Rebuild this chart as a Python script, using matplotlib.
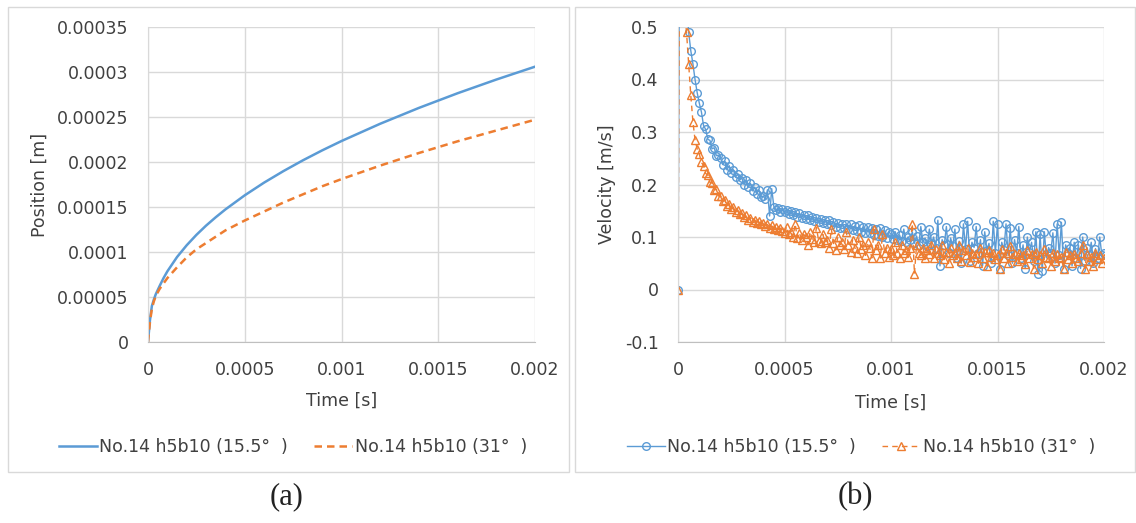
import matplotlib.pyplot as plt
import numpy as np
from matplotlib.patches import Rectangle

# ---- (a) position data ----
pos_time = [0, 1e-5, 2e-5, 3e-5, 4e-5, 6e-5, 8e-5, 1e-4, 1.5e-4, 2e-4, 2.5e-4, 3e-4,
            3.5e-4, 4e-4, 5e-4, 6e-4, 7e-4, 8e-4, 9e-4, 1e-3, 1.2e-3, 1.4e-3,
            1.6e-3, 1.8e-3, 2e-3]
pos_155 = [0, 0.0000240, 0.0000400, 0.0000470, 0.0000530, 0.0000622, 0.0000709,
           0.0000785, 0.0000944, 0.0001075, 0.0001190, 0.0001293, 0.0001386,
           0.0001473, 0.0001630, 0.0001771, 0.0001899, 0.0002018, 0.0002129,
           0.0002233, 0.0002425, 0.0002601, 0.0002764, 0.0002916, 0.0003059]
pos_31 = [0, 0.0000220, 0.0000370, 0.0000450, 0.0000510, 0.0000590, 0.0000650,
          0.0000710, 0.0000830, 0.0000940, 0.0001030, 0.0001100, 0.0001170,
          0.0001240, 0.0001350, 0.0001450, 0.0001550, 0.0001640, 0.0001730,
          0.0001810, 0.0001960, 0.0002100, 0.0002230, 0.0002350, 0.0002470]

# ---- (b) velocity data, one value every 10 us ----
vel_dt = 1e-5
vel_155 = [
    0, 0.95, 0.75, 0.62, 0.55, 0.49, 0.455, 0.43, 0.40, 0.375,
    0.355, 0.338, 0.312, 0.305, 0.286, 0.284, 0.268, 0.27, 0.255, 0.256,
    0.25, 0.238, 0.244, 0.228, 0.236, 0.222, 0.228, 0.214, 0.22, 0.209,
    0.212, 0.2, 0.208, 0.195, 0.202, 0.188, 0.195, 0.182, 0.19, 0.176,
    0.178, 0.172, 0.19, 0.14, 0.192, 0.158, 0.152, 0.155, 0.148, 0.153,
    0.148, 0.152, 0.143, 0.149, 0.141, 0.147, 0.139, 0.145, 0.137, 0.142,
    0.135, 0.141, 0.132, 0.138, 0.13, 0.136, 0.128, 0.134, 0.127, 0.133,
    0.125, 0.132, 0.122, 0.129, 0.12, 0.127, 0.118, 0.125, 0.117, 0.124,
    0.116, 0.124, 0.113, 0.121, 0.111, 0.122, 0.109, 0.119, 0.108, 0.12,
    0.107, 0.118, 0.104, 0.115, 0.102, 0.117, 0.1, 0.113, 0.099, 0.11,
    0.105, 0.097, 0.11, 0.095, 0.104, 0.092, 0.115, 0.09, 0.1, 0.094,
    0.11, 0.088, 0.102, 0.085, 0.12, 0.09, 0.098, 0.083, 0.115, 0.087,
    0.1, 0.08, 0.132, 0.045, 0.095, 0.085, 0.12, 0.07, 0.098, 0.082,
    0.115, 0.06, 0.092, 0.05, 0.125, 0.078, 0.13, 0.055, 0.09, 0.08,
    0.12, 0.07, 0.095, 0.045, 0.11, 0.075, 0.088, 0.05, 0.13, 0.07,
    0.125, 0.04, 0.09, 0.075, 0.125, 0.065, 0.118, 0.05, 0.095, 0.07,
    0.12, 0.06, 0.085, 0.04, 0.1, 0.072, 0.09, 0.055, 0.11, 0.03,
    0.105, 0.035, 0.11, 0.06, 0.08, 0.07, 0.108, 0.05, 0.125, 0.065,
    0.128, 0.04, 0.085, 0.07, 0.08, 0.045, 0.09, 0.06, 0.085, 0.04,
    0.1, 0.055, 0.08, 0.065, 0.09, 0.05, 0.078, 0.06, 0.1, 0.065,
    0.07,
]
vel_31 = [
    0, 0.9, 0.62, 0.53, 0.49, 0.43, 0.37, 0.32, 0.285, 0.268,
    0.258, 0.242, 0.236, 0.221, 0.218, 0.204, 0.203, 0.19, 0.191, 0.178,
    0.179, 0.168, 0.17, 0.159, 0.163, 0.153, 0.157, 0.147, 0.152, 0.143,
    0.146, 0.138, 0.141, 0.133, 0.137, 0.129, 0.133, 0.126, 0.13, 0.124,
    0.127, 0.121, 0.124, 0.118, 0.122, 0.116, 0.12, 0.114, 0.117, 0.112,
    0.108, 0.12, 0.105, 0.11, 0.1, 0.125, 0.098, 0.108, 0.095, 0.105,
    0.1, 0.085, 0.11, 0.096, 0.09, 0.118, 0.093, 0.088, 0.105, 0.09,
    0.095, 0.08, 0.115, 0.088, 0.075, 0.1, 0.085, 0.09, 0.078, 0.11,
    0.085, 0.072, 0.095, 0.08, 0.07, 0.1, 0.078, 0.085, 0.065, 0.09,
    0.08, 0.06, 0.115, 0.075, 0.085, 0.06, 0.105, 0.07, 0.08, 0.062,
    0.078, 0.065, 0.09, 0.07, 0.06, 0.085, 0.07, 0.075, 0.062, 0.08,
    0.125, 0.03, 0.085, 0.07, 0.065, 0.08, 0.06, 0.075, 0.068, 0.085,
    0.06, 0.078, 0.07, 0.065, 0.085, 0.058, 0.072, 0.05, 0.08, 0.066,
    0.07, 0.06, 0.085, 0.055, 0.075, 0.065, 0.08, 0.052, 0.07, 0.062,
    0.068, 0.05, 0.08, 0.06, 0.072, 0.045, 0.075, 0.062, 0.07, 0.058,
    0.065, 0.04, 0.078, 0.06, 0.07, 0.05, 0.082, 0.062, 0.068, 0.055,
    0.07, 0.058, 0.065, 0.048, 0.075, 0.06, 0.068, 0.04, 0.072, 0.058,
    0.065, 0.05, 0.078, 0.062, 0.06, 0.045, 0.07, 0.055, 0.068, 0.06,
    0.062, 0.04, 0.072, 0.058, 0.065, 0.05, 0.068, 0.06, 0.055, 0.07,
    0.085, 0.04, 0.068, 0.055, 0.062, 0.045, 0.07, 0.058, 0.065, 0.05,
    0.06,
]
vel_time = np.arange(len(vel_155)) * vel_dt

label_155 = 'No.14 h5b10 (15.5°  )'
label_31 = 'No.14 h5b10 (31°  )'

x_ticks = [0, 0.0005, 0.001, 0.0015, 0.002]
x_labels = ['0', '0.0005', '0.001', '0.0015', '0.002']
pos_ticks = [0, 0.00005, 0.0001, 0.00015, 0.0002, 0.00025, 0.0003, 0.00035]
pos_labels = ['0', '0.00005', '0.0001', '0.00015', '0.0002', '0.00025', '0.0003', '0.00035']
vel_ticks = [-0.1, 0, 0.1, 0.2, 0.3, 0.4, 0.5]
vel_labels = ['-0.1', '0', '0.1', '0.2', '0.3', '0.4', '0.5']

blue = '#5B9BD5'
orange = '#ED7D31'
txt = '#404040'

plt.rcParams['font.family'] = 'DejaVu Sans'
plt.rcParams['font.size'] = 12.5

W, H = 1136, 523
fig = plt.figure(figsize=(W / 100, H / 100), dpi=100)

# panel frames
for x0, x1 in [(8, 569), (575, 1135)]:
    fig.patches.append(Rectangle((x0 / W, 1 - 472 / H), (x1 - x0) / W, (472 - 7) / H,
                                 transform=fig.transFigure, fill=False,
                                 edgecolor='#d9d9d9', lw=1))

ax1 = fig.add_axes([148 / W, 1 - 342 / H, (535 - 148) / W, (342 - 27) / H])
ax2 = fig.add_axes([678 / W, 1 - 342 / H, (1104 - 678) / W, (342 - 27) / H])


def style(ax):
    ax.grid(True, color='#d9d9d9', lw=1)
    ax.set_axisbelow(True)
    for s in ['top', 'right']:
        ax.spines[s].set_visible(False)
    ax.spines['left'].set_color('#d9d9d9')
    ax.spines['bottom'].set_color('#bfbfbf')
    ax.tick_params(length=0, colors=txt, pad=14)
    ax.set_xlim(0, 0.002)
    ax.set_xticks(x_ticks, x_labels)


style(ax1)
ax1.plot(pos_time, pos_155, color=blue, lw=1.8, label=label_155)
ax1.plot(pos_time, pos_31, color=orange, lw=1.8, dashes=(3, 2), label=label_31)
ax1.set_ylim(0, 0.00035)
ax1.set_yticks(pos_ticks, pos_labels)
ax1.set_xlabel('Time [s]', color=txt, labelpad=9)
ax1.set_ylabel('Position [m]', color=txt, labelpad=6)
ax1.legend(loc='center', bbox_to_anchor=(293 / W, 1 - 447 / H),
           bbox_transform=fig.transFigure, ncol=2, frameon=False,
           handlelength=2.2, handletextpad=0.15, columnspacing=1.5,
           labelcolor=txt)

style(ax2)
ax2.plot(vel_time, vel_155, color=blue, lw=1, marker='o', ms=5.5, mfc='none',
         mew=1, label=label_155)
ax2.plot(vel_time, vel_31, color=orange, lw=1, dashes=(4, 3), marker='^', ms=6,
         mfc='none', mew=1, label=label_31)
ax2.set_ylim(-0.1, 0.5)
ax2.set_yticks(vel_ticks, vel_labels)
ax2.set_xlabel('Time [s]', color=txt, labelpad=10)
ax2.set_ylabel('Velocity [m/s]', color=txt, labelpad=6)
ax2.legend(loc='center', bbox_to_anchor=(861 / W, 1 - 447 / H),
           bbox_transform=fig.transFigure, ncol=2, frameon=False,
           handlelength=2.2, handletextpad=0.15, columnspacing=1.5,
           labelcolor=txt)

fig.text(287 / W, 1 - 497 / H, '(a)', family='Liberation Serif', size=22,
         ha='center', va='center', color='#222222')
fig.text(855 / W, 1 - 497 / H, '(b)', family='Liberation Serif', size=22,
         ha='center', va='center', color='#222222')

fig.savefig('out.png', dpi=100)
